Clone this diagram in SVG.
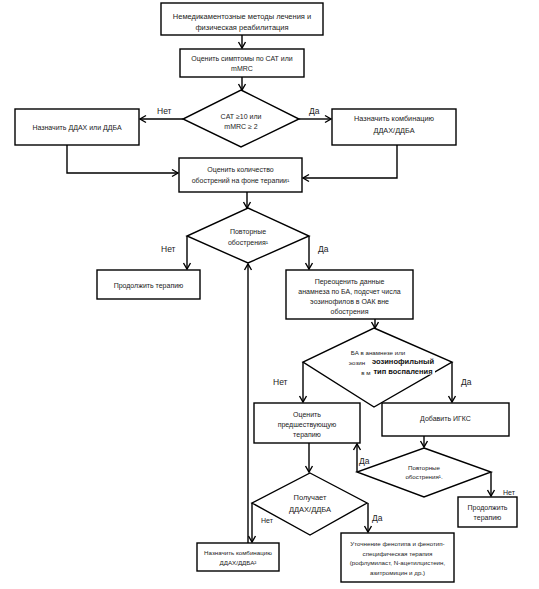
<svg xmlns="http://www.w3.org/2000/svg" width="539" height="589" viewBox="0 0 539 589">
<defs>
<marker id="a" markerWidth="10" markerHeight="10" refX="8" refY="5" orient="auto" markerUnits="userSpaceOnUse">
<path d="M2,1.5 L8,5 L2,8.5" fill="none" stroke="#000" stroke-width="1.4"/>
</marker>
<style>
.n{fill:#fff;stroke:#000;stroke-width:1.4}
.t{font-family:"Liberation Sans",Arial,sans-serif;font-size:7px;fill:#222;text-anchor:middle}
.s{font-size:6.2px}
.l{font-family:"Liberation Sans",Arial,sans-serif;font-size:8.5px;fill:#222}
.ls{font-size:7px}
.b{font-family:"Liberation Sans",Arial,sans-serif;font-size:7.5px;font-weight:bold;fill:#111;text-anchor:middle}
.c{fill:none;stroke:#000;stroke-width:1.4}
</style>
</defs>
<rect width="539" height="589" fill="#fff"/>
<g id="connectors">
<path class="c" d="M242,35 V48" marker-end="url(#a)"/>
<path class="c" d="M242,77 V90" marker-end="url(#a)"/>
<path class="c" d="M183,119 H140" marker-end="url(#a)"/>
<path class="c" d="M299,119 H331" marker-end="url(#a)"/>
<path class="c" d="M67,145 V173 H178" marker-end="url(#a)"/>
<path class="c" d="M397,145 V178 H303" marker-end="url(#a)"/>
<path class="c" d="M247,192 V208" marker-end="url(#a)"/>
<path class="c" d="M187,236 V269" marker-end="url(#a)"/>
<path class="c" d="M309,236 V269" marker-end="url(#a)"/>
<path class="c" d="M375,319 V328" marker-end="url(#a)"/>
<path class="c" d="M303,362 V402" marker-end="url(#a)"/>
<path class="c" d="M452,362 V402" marker-end="url(#a)"/>
<path class="c" d="M424,436 V447" marker-end="url(#a)"/>
<path class="c" d="M357,472 V444" marker-end="url(#a)"/>
<path class="c" d="M491,472 V496" marker-end="url(#a)"/>
<path class="c" d="M309,443 V472" marker-end="url(#a)"/>
<path class="c" d="M252,503 V542" marker-end="url(#a)"/>
<path class="c" d="M248,543 V264" marker-end="url(#a)"/>
<path class="c" d="M368,503 V532" marker-end="url(#a)"/>
<text class="l" x="157" y="114">Нет</text>
<text class="l" x="309" y="114">Да</text>
<text class="l" x="161" y="252">Нет</text>
<text class="l" x="318" y="252">Да</text>
<text class="l" x="273" y="385">Нет</text>
<text class="l" x="461" y="385">Да</text>
<text class="l" x="359" y="464">Да</text>
<text class="l ls" x="503" y="495">Нет</text>
<text class="l ls" x="261" y="523">Нет</text>
<text class="l" x="372" y="521">Да</text>
</g>
<g id="n1"><rect class="n" x="161" y="3" width="162" height="32"/>
<text class="t" x="242" y="18.5" style="font-size:7.5px">Немедикаментозные методы лечения и</text>
<text class="t" x="242" y="29.5" style="font-size:7.5px">физическая реабилитация</text></g>
<g id="n2"><rect class="n" x="180" y="49" width="124" height="28"/>
<text class="t" x="242" y="61">Оценить симптомы по САТ или</text>
<text class="t" x="242" y="71">mMRC</text></g>
<g id="d1"><polygon class="n" points="241,90 299,119 241,147 183,119"/>
<text class="t" x="241" y="118.5">CAT ≥10 или</text>
<text class="t" x="241" y="128.5">mMRC ≥  2</text></g>
<g id="n3"><rect class="n" x="15" y="109" width="124" height="36"/>
<text class="t" x="77" y="130">Назначить ДДАХ или ДДБА</text></g>
<g id="n4"><rect class="n" x="332" y="109" width="124" height="36"/>
<text class="t" x="394" y="120.5" style="font-size:7.3px">Назначить комбинацию</text>
<text class="t" x="394" y="133" style="font-size:7.3px">ДДАХ/ДДБА</text></g>
<g id="n5"><rect class="n" x="179" y="158" width="123" height="34"/>
<text class="t" x="240.5" y="171.5">Оценить количество</text>
<text class="t" x="240.5" y="182.5">обострений на фоне терапии¹</text></g>
<g id="d2"><polygon class="n" points="248,208 309,236 248,263 187,236"/>
<text class="t" x="248" y="234">Повторные</text>
<text class="t" x="248" y="245">обострения¹</text></g>
<g id="n6"><rect class="n" x="97" y="270" width="103" height="29"/>
<text class="t" x="148.5" y="288">Продолжить терапию</text></g>
<g id="n7"><rect class="n" x="286" y="270" width="127" height="49"/>
<text class="t" x="349.5" y="283.5">Переоценить данные</text>
<text class="t" x="349.5" y="294">анамнеза по БА, подсчет числа</text>
<text class="t" x="349.5" y="304">эозинофилов в ОАК вне</text>
<text class="t" x="349.5" y="314">обострения</text></g>
<g id="d3"><polygon class="n" points="374,328 452,362 374,407 303,362"/>
<text class="t s" x="378" y="355">БА в анамнезе или</text>
<text class="t s" x="357" y="365">эозин</text>
<text class="t s" x="366" y="375">в м</text>
<rect x="371" y="356.5" width="64" height="18" fill="#fff"/>
<text class="b" x="403" y="364">эозинофильный</text>
<text class="b" x="403" y="373.5">тип воспаления</text></g>
<g id="n8"><rect class="n" x="254" y="403" width="106" height="40"/>
<text class="t" x="307" y="417">Оценить</text>
<text class="t" x="307" y="427">предшествующую</text>
<text class="t" x="307" y="437">терапию</text></g>
<g id="n9"><rect class="n" x="382" y="403" width="127" height="33"/>
<text class="t" x="445.5" y="421">Добавить ИГКС</text></g>
<g id="d4"><polygon class="n" points="424,448 491,472 424,497 357,472"/>
<text class="t s" x="424" y="470">Повторные</text>
<text class="t s" x="424" y="479">обострения¹.</text></g>
<g id="n10"><rect class="n" x="458" y="497" width="59" height="30"/>
<text class="t" x="487.5" y="510">Продолжить</text>
<text class="t" x="487.5" y="520">терапию</text></g>
<g id="d5"><polygon class="n" points="310,473 367,503 310,535 252,503"/>
<text class="t" x="310" y="499.5" style="font-size:7.5px">Получает</text>
<text class="t" x="310" y="511.5" style="font-size:7.5px">ДДАХ/ДДБА</text></g>
<g id="n11"><rect class="n" x="197" y="543" width="82" height="28"/>
<text class="t s" x="238" y="554.5">Назначить комбинацию</text>
<text class="t s" x="238" y="564.5">ДДАХ/ДДБА²</text></g>
<g id="n12"><rect class="n" x="341" y="533" width="113" height="49"/>
<text class="t s" x="397.5" y="546">Уточнение фенотипа и фенотип-</text>
<text class="t s" x="397.5" y="555.5">специфическая терапия</text>
<text class="t s" x="397.5" y="565">(рофлумиласт, N-ацетилцистеин,</text>
<text class="t s" x="397.5" y="575">азитромицин и др.)</text></g>
</svg>
